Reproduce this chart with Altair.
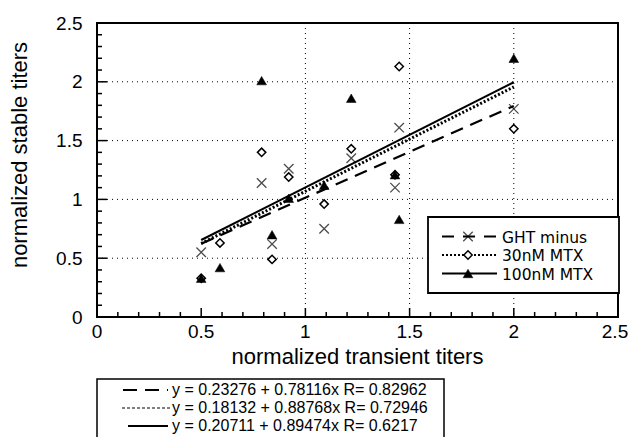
import altair as alt
import pandas as pd

# ---------------- data ----------------
x_title = "normalized transient titers"
y_title = "normalized stable titers"
series_names = ["GHT minus", "30nM MTX", "100nM MTX"]

ght_x = [0.5, 0.79, 0.84, 0.92, 1.09, 1.22, 1.43, 1.45, 2.0]
ght_y = [0.55, 1.14, 0.62, 1.26, 0.75, 1.35, 1.10, 1.61, 1.77]

mtx30_x = [0.5, 0.59, 0.79, 0.84, 0.92, 1.09, 1.22, 1.43, 1.45, 2.0]
mtx30_y = [0.33, 0.63, 1.40, 0.49, 1.19, 0.96, 1.43, 1.21, 2.13, 1.60]

mtx100_x = [0.5, 0.59, 0.79, 0.84, 0.92, 1.09, 1.22, 1.43, 1.45, 2.0]
mtx100_y = [0.33, 0.42, 2.01, 0.70, 1.01, 1.12, 1.86, 1.21, 0.83, 2.20]

intercepts = [0.23276, 0.18132, 0.20711]
slopes = [0.78116, 0.88768, 0.89474]
r_values = ["0.82962", "0.72946", "0.6217"]
fit_range = [0.5, 2.0]

major_ticks = [0, 0.5, 1, 1.5, 2, 2.5]
x_tick_labels = ["0", "0.5", "1", "1.5", "2", "2.5"]
minor_ticks = [0.1, 0.2, 0.3, 0.4, 0.6, 0.7, 0.8, 0.9, 1.1, 1.2, 1.3, 1.4,
               1.6, 1.7, 1.8, 1.9, 2.1, 2.2, 2.3, 2.4]
x_grid = [1, 1.5, 2]
y_grid = [0.5, 1, 1.5, 2]

# ---------------- styling ----------------
W, H = 521, 294
FONT = "Liberation Sans"
LEG_FONT = "DejaVu Sans"
INK = "black"
X_SHAPE = "M-1,-1L1,1M-1,1L1,-1"
dash_styles = [[13, 8], [2, 2], []]
line_widths = [2.2, 3, 2.2]

xs = alt.Scale(domain=[0, 2.5], nice=False, zero=False)
ys = alt.Scale(domain=[0, 2.5], nice=False, zero=False)

y_axis = alt.Axis(values=major_ticks, format="~g", ticks=False, tickSize=0, domain=False,
                  grid=False, labelPadding=15, labelFontSize=19, labelFont=FONT,
                  labelColor=INK, labelFlush=False, title=None)


def X(field="x"):
    return alt.X(f"{field}:Q", scale=xs, axis=None)


def Y(field="y"):
    return alt.Y(f"{field}:Q", scale=ys, axis=y_axis)


one = pd.DataFrame({"k": [0]})

# grid
gx = alt.Chart(pd.DataFrame({"x": x_grid})).mark_rule(
    color=INK, strokeWidth=1, strokeDash=[1, 4]).encode(x=X())
gy = alt.Chart(pd.DataFrame({"y": y_grid})).mark_rule(
    color=INK, strokeWidth=1, strokeDash=[1, 4]).encode(y=Y())

# inward ticks
tx_major = alt.Chart(pd.DataFrame({"x": major_ticks})).mark_rule(color=INK, strokeWidth=1.5).encode(
    x=X(), y=alt.value(H), y2=alt.value(H - 9))
tx_minor = alt.Chart(pd.DataFrame({"x": minor_ticks})).mark_rule(color=INK, strokeWidth=1.5).encode(
    x=X(), y=alt.value(H), y2=alt.value(H - 5))
ty_major = alt.Chart(pd.DataFrame({"y": major_ticks})).mark_rule(color=INK, strokeWidth=1.5).encode(
    y=Y(), x=alt.value(0), x2=alt.value(10))
ty_minor = alt.Chart(pd.DataFrame({"y": minor_ticks})).mark_rule(color=INK, strokeWidth=1.5).encode(
    y=Y(), x=alt.value(0), x2=alt.value(5))

# x tick labels (last one nudged so that it stays inside the page)
xl_df = pd.DataFrame({"x": major_ticks, "t": x_tick_labels})
xl_main = alt.Chart(xl_df.iloc[:-1]).mark_text(
    font=FONT, fontSize=19, color=INK, align="center", baseline="top").encode(
    x=X(), y=alt.value(H + 6), text="t:N")
xl_last = alt.Chart(xl_df.iloc[-1:]).mark_text(
    font=FONT, fontSize=19, color=INK, align="center", baseline="top", dx=-3).encode(
    x=X(), y=alt.value(H + 6), text="t:N")

layers = [gx, gy, tx_major, tx_minor, ty_major, ty_minor, xl_main, xl_last]

# regression lines
for i, name in enumerate(series_names):
    df = pd.DataFrame({"x": fit_range,
                       "y": [intercepts[i] + slopes[i] * v for v in fit_range]})
    kw = dict(color=INK, strokeWidth=line_widths[i])
    if dash_styles[i]:
        kw["strokeDash"] = dash_styles[i]
    layers.append(alt.Chart(df).mark_line(**kw).encode(x=X(), y=Y()))


# markers
def marker_kwargs(i):
    if i == 0:
        return dict(shape=X_SHAPE, filled=False, stroke=INK, strokeWidth=1.3, size=90)
    if i == 1:
        return dict(shape="diamond", filled=False, stroke=INK, fill="white", strokeWidth=1.5, size=70, opacity=1)
    return dict(shape="triangle-up", filled=True, fill=INK, stroke=INK, strokeWidth=0.5, size=95, opacity=1)


pts = [(ght_x, ght_y), (mtx30_x, mtx30_y), (mtx100_x, mtx100_y)]
for i, (xv, yv) in enumerate(pts):
    df = pd.DataFrame({"x": xv, "y": yv})
    layers.append(alt.Chart(df).mark_point(**marker_kwargs(i)).encode(x=X(), y=Y()))

# axis titles
layers.append(alt.Chart(one).mark_text(font=FONT, fontSize=22, color=INK, align="center",
                                       baseline="alphabetic", text=x_title).encode(
    x=alt.value(W / 2), y=alt.value(341)))
layers.append(alt.Chart(one).mark_text(font=FONT, fontSize=22, color=INK, align="center",
                                       baseline="alphabetic", angle=270, text=y_title).encode(
    x=alt.value(-70), y=alt.value(132)))

# inner legend
layers.append(alt.Chart(one).mark_rect(fill="white", stroke=INK, strokeWidth=1.8).encode(
    x=alt.value(331), x2=alt.value(522), y=alt.value(194), y2=alt.value(270)))
leg_y = [213.5, 232, 250.5]
for i, name in enumerate(series_names):
    kw = dict(color=INK, strokeWidth=2 if i != 1 else 2.2)
    if dash_styles[i]:
        kw["strokeDash"] = [12, 9] if i == 0 else [2, 2]
    layers.append(alt.Chart(one).mark_rule(**kw).encode(
        x=alt.value(345), x2=alt.value(400), y=alt.value(leg_y[i])))
    layers.append(alt.Chart(one).mark_point(**marker_kwargs(i)).encode(
        x=alt.value(371), y=alt.value(leg_y[i])))
    layers.append(alt.Chart(one).mark_text(font=LEG_FONT, fontSize=15.5, color=INK, align="left",
                                           baseline="middle", text=name).encode(
        x=alt.value(405), y=alt.value(leg_y[i] + 1)))

# equation box under the plot
layers.append(alt.Chart(one).mark_rect(fill="white", stroke=INK, strokeWidth=1.5).encode(
    x=alt.value(0), x2=alt.value(347), y=alt.value(356), y2=alt.value(440)))
eq_y = [367, 385, 403]
eq_sample = [(26, 71), (25, 73), (31, 71)]
eq_dash = [[14, 8], [3, 2], []]
for i in range(3):
    kw = dict(color=INK, strokeWidth=2 if i != 1 else 1.2)
    if eq_dash[i]:
        kw["strokeDash"] = eq_dash[i]
    layers.append(alt.Chart(one).mark_rule(**kw).encode(
        x=alt.value(eq_sample[i][0]), x2=alt.value(eq_sample[i][1]), y=alt.value(eq_y[i])))
    label = f"y = {intercepts[i]} + {slopes[i]}x R= {r_values[i]}"
    layers.append(alt.Chart(one).mark_text(font=FONT, fontSize=16, color=INK, align="left",
                                           baseline="middle", text=label).encode(
        x=alt.value(75), y=alt.value(eq_y[i])))

chart = alt.layer(*layers).properties(
    width=W, height=H,
    autosize=alt.AutoSizeParams(type="none"),
    padding={"left": 89, "top": 15, "right": 11, "bottom": 120},
    background="white",
).configure_view(stroke=INK, strokeWidth=2)

chart.save("out.html", embed_options={"renderer": "svg", "actions": False})
